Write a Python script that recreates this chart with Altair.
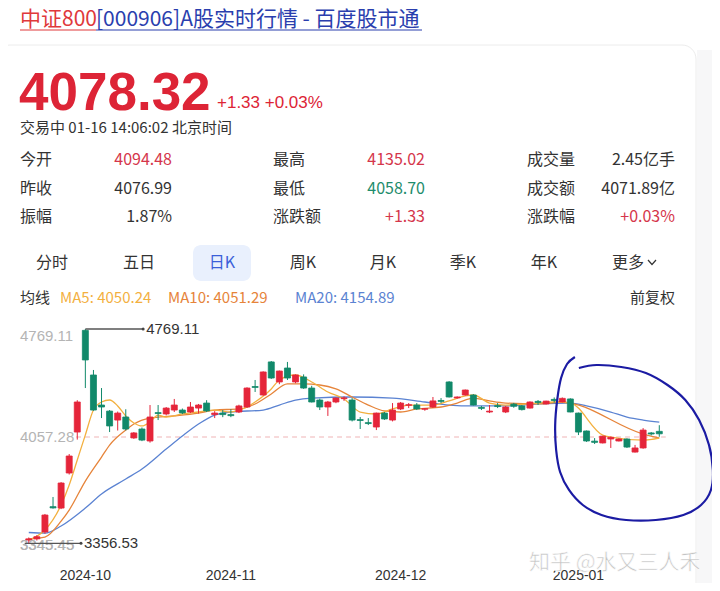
import altair as alt
import pandas as pd

# ---------------- data ----------------
dates = ["09-20", "09-23", "09-24", "09-25", "09-26", "09-27", "09-30",
         "10-08", "10-09", "10-10", "10-11", "10-14", "10-15", "10-16", "10-17", "10-18",
         "10-21", "10-22", "10-23", "10-24", "10-25", "10-28", "10-29", "10-30", "10-31",
         "11-01", "11-04", "11-05", "11-06", "11-07", "11-08", "11-11", "11-12", "11-13",
         "11-14", "11-15", "11-18", "11-19", "11-20", "11-21", "11-22", "11-25", "11-26",
         "11-27", "11-28", "11-29",
         "12-02", "12-03", "12-04", "12-05", "12-06", "12-09", "12-10", "12-11", "12-12",
         "12-13", "12-16", "12-17", "12-18", "12-19", "12-20", "12-23", "12-24", "12-25",
         "12-26", "12-27", "12-30", "12-31",
         "01-02", "01-03", "01-06", "01-07", "01-08", "01-09", "01-10", "01-13", "01-14",
         "01-15", "01-16"]
opens = [3378, 3386, 3431, 3598, 3589, 3820, 4090, 4760, 4466, 4268, 4228, 4169, 4189, 4051,
         4110, 4031, 4218, 4209, 4235, 4235, 4222, 4248, 4281, 4205, 4215, 4205, 4222, 4255,
         4390, 4334, 4552, 4420, 4512, 4420, 4453, 4380, 4301, 4255, 4288, 4310, 4301, 4172,
         4152, 4123, 4215, 4169, 4242, 4266, 4268, 4240, 4255, 4298, 4420, 4315, 4334, 4334,
         4252, 4222, 4264, 4222, 4274, 4262, 4248, 4292, 4275, 4305, 4288, 4308, 4215, 4097,
         4030, 4018, 4044, 4031, 4044, 3958, 3985, 4084, 4094.48]
highs = [3395, 3410, 3550, 3662, 3760, 3945, 4300, 4769.11, 4499, 4380, 4235, 4225, 4240, 4090,
         4120, 4268, 4268, 4255, 4308, 4245, 4288, 4275, 4300, 4228, 4235, 4240, 4270, 4385,
         4433, 4490, 4558, 4495, 4552, 4470, 4470, 4395, 4310, 4295, 4318, 4325, 4314, 4189,
         4182, 4218, 4222, 4281, 4288, 4281, 4281, 4248, 4321, 4314, 4425, 4325, 4370, 4340,
         4262, 4268, 4281, 4262, 4282, 4268, 4292, 4301, 4296, 4318, 4318, 4312, 4218, 4100,
         4050, 4064, 4060, 4048, 4048, 4005, 4116, 4090, 4135.02]
lows = [3356.53, 3375, 3420, 3585, 3582, 3810, 4040, 4380, 4230, 4182, 4090, 4100, 4100, 4045,
        4030, 4020, 4169, 4200, 4222, 4208, 4215, 4212, 4222, 4182, 4188, 4188, 4215, 4250,
        4354, 4330, 4440, 4405, 4433, 4412, 4375, 4285, 4235, 4196, 4280, 4295, 4160, 4110,
        4136, 4103, 4170, 4160, 4235, 4248, 4235, 4230, 4250, 4280, 4318, 4310, 4330, 4265,
        4235, 4215, 4248, 4215, 4250, 4232, 4245, 4268, 4272, 4284, 4285, 4220, 4070, 4025,
        4011, 4015, 3985, 4028, 3985, 3955, 3980, 4068, 4058.70]
closes = [3386, 3400, 3543, 3590, 3754, 3932, 4288, 4565, 4235, 4255, 4130, 4215, 4110, 4084,
          4037, 4189, 4212, 4248, 4268, 4216, 4255, 4268, 4229, 4215, 4205, 4198, 4262, 4380,
          4384, 4486, 4446, 4492, 4446, 4466, 4380, 4288, 4255, 4288, 4314, 4315, 4169, 4166,
          4146, 4215, 4176, 4235, 4281, 4270, 4242, 4244, 4295, 4292, 4321, 4321, 4367, 4268,
          4246, 4228, 4258, 4255, 4260, 4238, 4288, 4285, 4294, 4298, 4312, 4222, 4090, 4031,
          4022, 4063, 4055, 4044, 3991, 3985, 4103, 4076.99, 4078.32]

ma5_idx = [0, 2, 4, 5, 6, 7, 8, 9, 10, 11, 12, 13, 14, 15, 16, 17, 19, 21, 23, 25, 26, 27, 28,
           30, 31, 33, 35, 37, 39, 41, 43, 45, 47, 50, 52, 54, 55, 57, 59, 63, 65, 67, 71, 72,
           76, 78]
ma5_val = [3378, 3444, 3609, 3741, 3906, 4071, 4235, 4288, 4301, 4262, 4196, 4150, 4130, 4156,
           4202, 4189, 4209, 4222, 4235, 4222, 4235, 4255, 4288, 4374, 4433, 4466, 4420, 4354,
           4308, 4222, 4209, 4242, 4268, 4268, 4295, 4328, 4334, 4281, 4268, 4281, 4288, 4281,
           4070, 4057, 4037, 4050.24]
ma10_idx = [0, 2, 4, 5, 7, 9, 10, 12, 13, 15, 18, 21, 23, 26, 28, 30, 32, 34, 36, 38, 40, 42,
            44, 46, 48, 51, 53, 55, 57, 59, 63, 66, 67, 76, 78]
ma10_val = [3385, 3398, 3503, 3576, 3767, 3925, 4004, 4103, 4143, 4182, 4196, 4215, 4235, 4242,
            4275, 4341, 4407, 4407, 4400, 4374, 4321, 4268, 4229, 4222, 4242, 4255, 4281, 4314,
            4295, 4281, 4275, 4288, 4281, 4077, 4051.29]
ma20_idx = [0, 2, 4, 7, 9, 12, 14, 17, 19, 21, 23, 25, 29, 31, 33, 35, 40, 45, 49, 52, 55, 59,
            63, 67, 69, 72, 74, 76, 78]
ma20_val = [3428, 3424, 3471, 3589, 3682, 3780, 3846, 3978, 4064, 4143, 4202, 4222, 4235, 4268,
            4301, 4314, 4321, 4314, 4288, 4268, 4262, 4262, 4275, 4281, 4262, 4222, 4189, 4169,
            4154.89]

month_labels = ["2024-10", "2024-11", "2024-12", "2025-01"]
month_idx = [7, 25, 46, 68]

axis_labels = ["4769.11", "4057.28", "3345.45"]
axis_values = [4769.11, 4057.28, 3345.45]

high_price, high_idx, high_label_idx = 4769.11, 7, 14.15
low_price, low_idx, low_label_idx = 3356.53, -0.5, 6.46

# hand drawn ellipse (annotation) in data coordinates
ell_idx = [67.56, 66.59, 65.85, 65.37, 65.12, 65.24, 65.73, 66.83, 68.54, 70.85, 73.90, 77.56,
           80.98, 83.17, 84.39, 84.63, 84.15, 82.93, 81.22, 79.02, 76.34, 73.29, 70.24, 68.05]
ell_val = [4584.6, 4538.4, 4446.1, 4301.1, 4136.4, 3971.6, 3826.6, 3708.0, 3609.1, 3543.2,
           3510.2, 3510.2, 3543.2, 3609.1, 3708.0, 3839.8, 4004.6, 4169.3, 4301.1, 4400.0,
           4479.1, 4518.6, 4531.8, 4512.1]

title_red = "中证800"
title_blue = "[000906]A股实时行情 - 百度股市通"
last_price = "4078.32"
change_text = "+1.33 +0.03%"
status_text = "交易中 01-16 14:06:02 北京时间"
stat_labels = [["今开", "昨收", "振幅"], ["最高", "最低", "涨跌额"], ["成交量", "成交额", "涨跌幅"]]
stat_values = [["4094.48", "4076.99", "1.87%"], ["4135.02", "4058.70", "+1.33"],
               ["2.45亿手", "4071.89亿", "+0.03%"]]
stat_colors = [["#d5364b", "#333333", "#333333"], ["#d5364b", "#1e8c6c", "#d5364b"],
               ["#333333", "#333333", "#d5364b"]]
tabs = ["分时", "五日", "日K", "周K", "月K", "季K", "年K", "更多"]
ma_legend = ["MA5: 4050.24", "MA10: 4051.29", "MA20: 4154.89"]
watermark = "知乎 @水又三人禾"

# ---------------- styling ----------------
CJK = "Noto Sans CJK SC"
RED = "#e5253a"
GREEN = "#11896a"
MA5C, MA10C, MA20C = "#f3b03f", "#e6843a", "#5b83d2"
W, H = 704, 575
xs = alt.Scale(domain=[-1.9512, 83.902], nice=False, zero=False)
ys = alt.Scale(domain=[3095.0, 6884.8], nice=False, zero=False)
one = pd.DataFrame({"k": [0]})


def label(text, x, y, size=15, color="#333333", align="left", baseline="middle",
          weight="normal", font=CJK):
    return alt.Chart(pd.DataFrame({"t": [text]})).mark_text(
        align=align, baseline=baseline, fontSize=size, color=color,
        fontWeight=weight, font=font
    ).encode(x=alt.value(x), y=alt.value(y), text="t:N")


def box(x, x2, y, y2, fill, stroke=None, radius=0):
    kw = dict(fill=fill, cornerRadius=radius)
    if stroke:
        kw.update(stroke=stroke, strokeWidth=1)
    return alt.Chart(one).mark_rect(**kw).encode(
        x=alt.value(x), x2=alt.value(x2), y=alt.value(y), y2=alt.value(y2))


layers = []
# background pieces
layers.append(box(689, 704, 42, 575, "#f7f7f8"))
layers.append(box(-12, 688, 37, 600, "#ffffff", stroke="#ececec", radius=14))

# title
layers.append(label(title_red, 12, 18, size=21, color="#e0393b", baseline="alphabetic"))
layers.append(label(title_blue, 88, 18, size=21, color="#2a3eae", baseline="alphabetic"))
layers.append(alt.Chart(one).mark_rule(color="#e0393b", strokeWidth=1.2).encode(
    x=alt.value(12), x2=alt.value(88), y=alt.value(22)))
layers.append(alt.Chart(one).mark_rule(color="#2a3eae", strokeWidth=1.2).encode(
    x=alt.value(88), x2=alt.value(414), y=alt.value(22)))

# price header
layers.append(label(last_price, 11, 102, size=53, color="#dd2436", baseline="alphabetic",
                    weight="bold", font="Liberation Sans"))
layers.append(label(change_text, 209, 100, size=17, color="#dd2436", baseline="alphabetic",
                    font="Liberation Sans"))
layers.append(label(status_text, 12, 120, size=15, color="#333333"))

# stats table
col_label_x = [12, 265, 519]
col_value_x = [164, 417, 667]
row_y = [152, 181, 209]
for c in range(3):
    for r in range(3):
        layers.append(label(stat_labels[c][r], col_label_x[c], row_y[r], size=16))
        layers.append(label(stat_values[c][r], col_value_x[c], row_y[r], size=16,
                            color=stat_colors[c][r], align="right"))

# tabs
tab_x = [44, 131, 214, 295, 375, 455, 536, 620]
layers.append(box(185, 243, 237, 273, "#e9f0fd", radius=8))
for t, x in zip(tabs, tab_x):
    layers.append(label(t, x, 255, size=16, color="#3b5fd9" if t == "日K" else "#333333",
                        align="center"))
chev = pd.DataFrame({"px": [640, 644, 648], "py": [252, 256.5, 252]})
layers.append(alt.Chart(chev).mark_line(color="#333333", strokeWidth=1.2).encode(
    x=alt.X("px:Q", scale=None), y=alt.Y("py:Q", scale=None)))

# MA legend row
layers.append(label("均线", 12, 290, size=15))
for t, x, c in zip(ma_legend, [52, 160, 287], [MA5C, MA10C, MA20C]):
    layers.append(label(t, x, 290, size=15, color=c))
layers.append(label("前复权", 667, 290, size=15, align="right"))

# ---------------- chart ----------------
X = alt.X("i:Q", scale=xs, axis=None)

ax_df = pd.DataFrame({"t": axis_labels, "v": axis_values,
                      "b": ["top", "middle", "middle"]})
for b in ["top", "middle"]:
    layers.append(alt.Chart(ax_df[ax_df.b == b]).mark_text(
        align="left", baseline=b, fontSize=15, color="#b4b4b4", font="Liberation Sans"
    ).encode(x=alt.value(12), y=alt.Y("v:Q", scale=ys, axis=None), text="t:N"))

mid_df = pd.DataFrame({"i": [5.85], "i2": [78.8], "v": [4057.28]})
layers.append(alt.Chart(mid_df).mark_rule(color="#f0b4b6", strokeDash=[5, 4], strokeWidth=1.2)
              .encode(x=X, x2="i2:Q", y=alt.Y("v:Q", scale=ys, axis=None)))

ma_df = pd.concat([
    pd.DataFrame({"i": ma20_idx, "v": ma20_val, "m": "MA20", "c": MA20C}),
    pd.DataFrame({"i": ma10_idx, "v": ma10_val, "m": "MA10", "c": MA10C}),
    pd.DataFrame({"i": ma5_idx, "v": ma5_val, "m": "MA5", "c": MA5C}),
])
layers.append(alt.Chart(ma_df).mark_line(strokeWidth=1.3, interpolate="monotone").encode(
    x=X, y=alt.Y("v:Q", scale=ys, axis=None),
    color=alt.Color("c:N", scale=None), detail="m:N"))

df = pd.DataFrame({"i": list(range(len(dates))), "date": dates, "open": opens,
                   "high": highs, "low": lows, "close": closes})
df["c"] = [RED if c >= o else GREEN for o, c in zip(opens, closes)]
base = alt.Chart(df)
layers.append(base.mark_rule(strokeWidth=1).encode(
    x=X, y=alt.Y("low:Q", scale=ys, axis=None), y2="high:Q",
    color=alt.Color("c:N", scale=None)))
layers.append(base.mark_bar(size=6, strokeWidth=0.8).encode(
    x=X, y=alt.Y("open:Q", scale=ys, axis=None), y2="close:Q",
    color=alt.Color("c:N", scale=None),
    stroke=alt.Stroke("c:N", scale=None)))

# bottom axis label (struck through by the low marker line)
layers.append(alt.Chart(ax_df[ax_df.b == "middle"].iloc[1:]).mark_text(
    align="left", baseline="middle", fontSize=15, color="#b4b4b4", font="Liberation Sans"
).encode(x=alt.value(12), y=alt.Y("v:Q", scale=ys, axis=None), text="t:N"))

# high / low markers
mk = pd.DataFrame({"i": [high_idx, low_idx], "i2": [high_label_idx, low_label_idx],
                   "v": [high_price, low_price], "t": ["4769.11", "3356.53"]})
layers.append(alt.Chart(mk).mark_rule(color="#555555", strokeWidth=1.3).encode(
    x=X, x2="i2:Q", y=alt.Y("v:Q", scale=ys, axis=None)))
layers.append(alt.Chart(mk).mark_circle(color="#444444", size=9, opacity=1).encode(
    x=alt.X("i2:Q", scale=xs, axis=None), y=alt.Y("v:Q", scale=ys, axis=None)))
layers.append(alt.Chart(mk).mark_text(align="left", baseline="middle", dx=3, fontSize=15,
                                      color="#333333", font="Liberation Sans").encode(
    x=alt.X("i2:Q", scale=xs, axis=None), y=alt.Y("v:Q", scale=ys, axis=None), text="t:N"))

# month labels
mdf = pd.DataFrame({"i": month_idx, "t": month_labels})
layers.append(alt.Chart(mdf).mark_text(fontSize=14, color="#333333", font="Liberation Sans",
                                       baseline="middle").encode(
    x=X, y=alt.value(568), text="t:N"))

# watermark
layers.append(alt.Chart(pd.DataFrame({"t": [watermark]})).mark_text(
    align="left", baseline="middle", fontSize=21, color="#c4c4c4", font=CJK,
    stroke="#ffffff", strokeWidth=0.6
).encode(x=alt.value(521), y=alt.value(555), text="t:N"))

# hand-drawn ellipse
edf = pd.DataFrame({"i": ell_idx, "v": ell_val, "k": list(range(len(ell_idx)))})
layers.append(alt.Chart(edf).mark_line(color="#1b1ba3", strokeWidth=2.2,
                                       interpolate="cardinal").encode(
    x=X, y=alt.Y("v:Q", scale=ys, axis=None), order="k:Q"))

chart = alt.layer(*layers).properties(
    width=W, height=H, padding=0,
    autosize=alt.AutoSizeParams(type="none"),
).configure_view(strokeWidth=0)

chart.save("out.html", embed_options={"renderer": "svg", "actions": False})
